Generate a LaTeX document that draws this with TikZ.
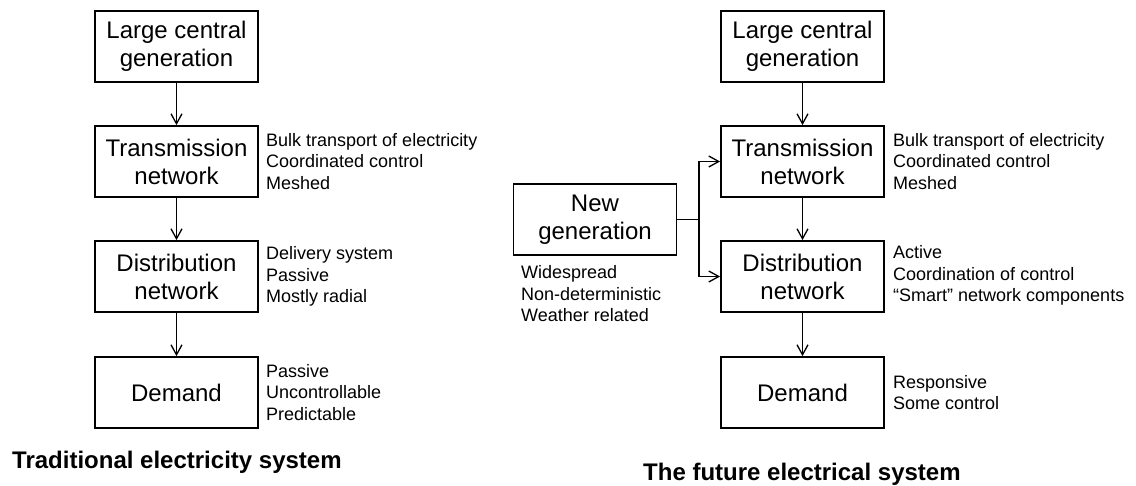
\documentclass[tikz,border=0pt]{standalone}
\usepackage{fontspec}
\setmainfont{Liberation Sans}
\usetikzlibrary{arrows.meta}
\begin{document}
\begin{tikzpicture}[x=1pt,y=-1pt,
  sysbox/.style={draw, line width=1.8pt, minimum width=163pt, minimum height=71pt,
    inner sep=0pt, align=center, font=\fontsize{24}{28}\selectfont},
  note/.style={anchor=west, inner sep=0pt, align=left, font=\fontsize{18}{21.5}\selectfont},
  title/.style={anchor=base west, inner sep=0pt, font=\fontsize{24}{28}\selectfont\bfseries},
  flow/.style={line width=1.3pt, -{Straight Barb[length=10pt,width=11pt,line width=1.3pt]}},
  plain/.style={line width=1.3pt}]
\useasboundingbox (0,0) rectangle (1136,485);
% left column
\node[sysbox] (lg) at (176.5,46.5) {Large central\\generation};
\node[sysbox] (lt) at (176.5,161.5) {Transmission\\network};
\node[sysbox] (ld) at (176.5,276.5) {Distribution\\network};
\node[sysbox] (lm) at (176.5,392.5) {Demand};
\draw[flow] (lg) -- (lt);
\draw[flow] (lt) -- (ld);
\draw[flow] (ld) -- (lm);
\node[note] (ltn) at (266,161.5) {Bulk transport of electricity\\Coordinated control\\Meshed};
\node[note] (ldn) at (266,276.5) {Delivery system\\Passive\\Mostly radial};
\node[note] (lmn) at (266,392.5) {Passive\\Uncontrollable\\Predictable};
\node[title] (lti) at (12,468) {Traditional electricity system};
% right column
\node[sysbox] (rg) at (802.5,46.5) {Large central\\generation};
\node[sysbox] (rt) at (802.5,161.5) {Transmission\\network};
\node[sysbox] (rd) at (802.5,276.5) {Distribution\\network};
\node[sysbox] (rm) at (802.5,392.5) {Demand};
\node[sysbox] (ng) at (595,219.5) {New\\generation};
\draw[flow] (rg) -- (rt);
\draw[flow] (rt) -- (rd);
\draw[flow] (rd) -- (rm);
\coordinate (split) at (699,219.5);
\draw[plain] (ng.east) -- (split);
\draw[flow] (split) |- (rt.west);
\draw[flow] (split) |- (rd.west);
\node[note] (ngn) at (521,294) {Widespread\\Non-deterministic\\Weather related};
\node[note] (rtn) at (893,161.5) {Bulk transport of electricity\\Coordinated control\\Meshed};
\node[note] (rdn) at (893,275.5) {Active\\Coordination of control\\“Smart” network components};
\node[note] (rmn) at (893,392.5) {Responsive\\Some control};
\node[title] (rti) at (643,480) {The future electrical system};
\end{tikzpicture}
\end{document}
